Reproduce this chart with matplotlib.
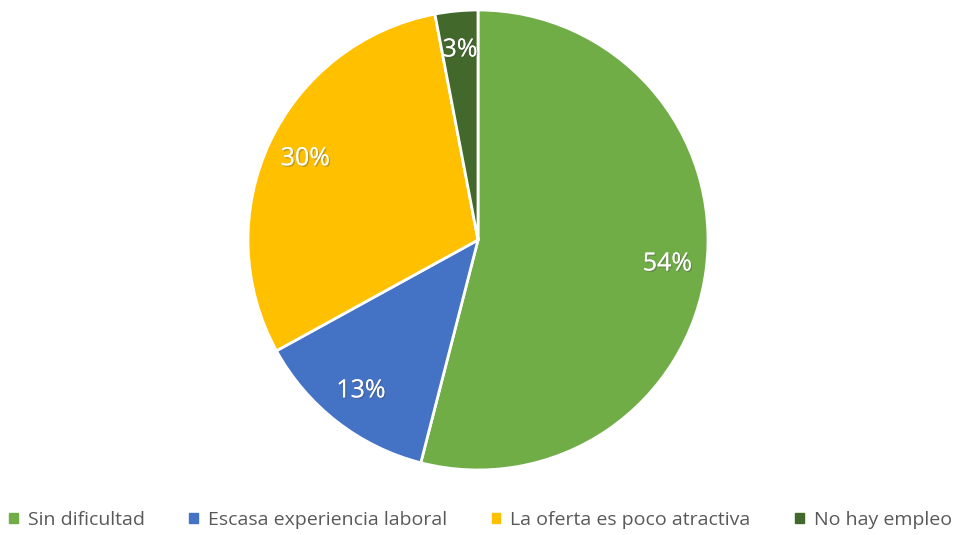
import matplotlib
matplotlib.use("Agg")
import matplotlib.pyplot as plt
import matplotlib.patheffects as pe

# data
categories = ["Sin dificultad", "Escasa experiencia laboral",
              "La oferta es poco atractiva", "No hay empleo"]
values = [54, 13, 30, 3]
colors = ["#70AD47", "#4472C4", "#FFC000", "#43682B"]

plt.rcParams['font.family'] = ['Open Sans', 'DejaVu Sans']

fig = plt.figure(figsize=(9.61, 5.35), dpi=100)
# pie centre ~ (478, 240) px, radius ~230 px
ax = fig.add_axes([248 / 961, 65 / 535, 460 / 961, 460 / 535])

wedges, texts, autotexts = ax.pie(
    values, colors=colors, startangle=90, counterclock=False,
    autopct='%1.0f%%', pctdistance=0.83,
    wedgeprops=dict(edgecolor='white', linewidth=2),
    textprops=dict(color='white', fontsize=18))
for t in autotexts:
    t.set_path_effects([pe.withSimplePatchShadow(offset=(1, -1), alpha=0.35),
                        pe.Normal()])
ax.set_xlim(-1, 1)
ax.set_ylim(-1, 1)
ax.set_aspect('equal')

handles = [plt.Rectangle((0, 0), 1, 1, color=c) for c in colors]
fig.legend(handles, categories, loc='center', bbox_to_anchor=(0.5, 1 - 520 / 535),
           ncol=4, frameon=False, fontsize=14, labelcolor='#595959',
           handlelength=0.45, handleheight=0.45, handletextpad=0.5, columnspacing=2.3)

fig.savefig("out.png", dpi=100)
